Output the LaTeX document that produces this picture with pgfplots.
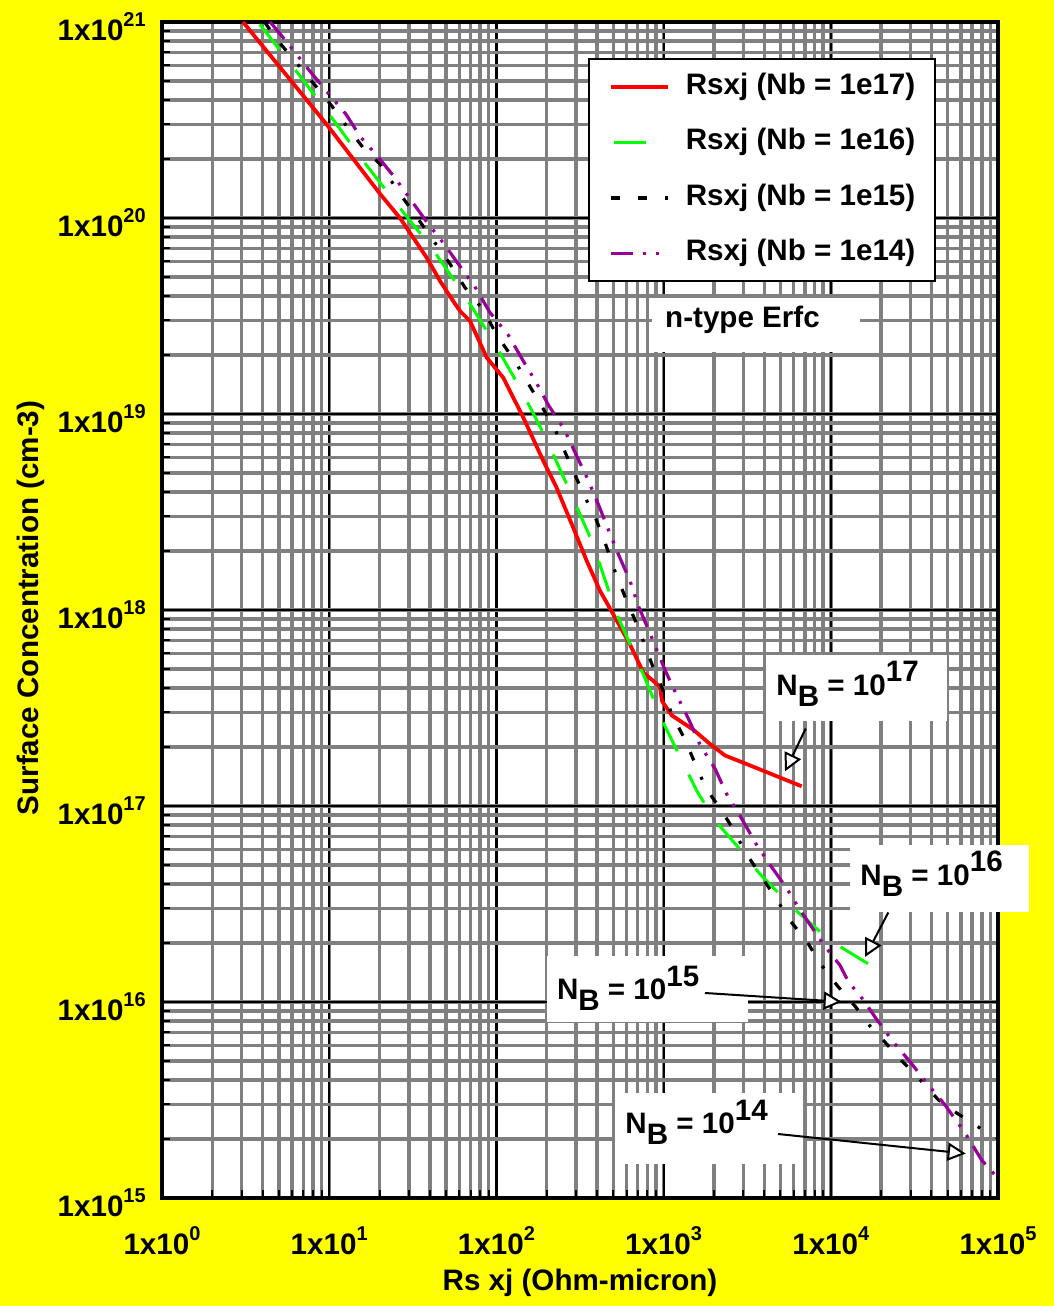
\documentclass[border=0pt]{standalone}
\usepackage{fontspec}
\setmainfont{Liberation Sans}
\usepackage{pgfplots}
\pgfplotsset{compat=1.18}
\usetikzlibrary{arrows.meta}
\definecolor{myyellow}{RGB}{255,255,0}
\definecolor{gridgray}{RGB}{128,128,128}
\definecolor{mypurple}{RGB}{153,0,153}
\definecolor{mygreen}{RGB}{0,255,0}
\newcommand{\lblfont}{\fontsize{14.8}{17}\selectfont\bfseries}
\newcommand{\tl}[1]{1x10\raisebox{7pt}{\fontsize{10}{10}\selectfont\bfseries #1}}
\newcommand{\nb}[1]{N\raisebox{-5.5pt}{B} = 10\raisebox{6.8pt}{#1}}
\begin{document}
\begin{tikzpicture}[x=1pt,y=1pt]
\fill[myyellow] (0,0) rectangle (527,653);
\path[use as bounding box] (0,0) rectangle (527,653);
\begin{axis}[
  at={(81pt,54pt)}, anchor=south west,
  scale only axis, width=418pt, height=588pt,
  axis background/.style={fill=white},
  xmode=log, ymode=log,
  xmin=1, xmax=1e5, ymin=1e15, ymax=1e21,
  xtick={1,10,100,1000,10000,100000},
  xticklabels={\tl{0},\tl{1},\tl{2},\tl{3},\tl{4},\tl{5}},
  ytick={1e15,1e16,1e17,1e18,1e19,1e20,1e21},
  yticklabels={\tl{15},\tl{16},\tl{17},\tl{18},\tl{19},\tl{20},\tl{21}},
  grid=both,
  major grid style={black, line width=1.1pt},
  minor grid style={gridgray, line width=1.7pt},
  tick pos=left, tick align=inside,
  major tick length=0pt, minor tick length=4pt,
  tick style={black, line width=1pt},
  axis line style={black, line width=1.6pt},
  xticklabel style={font=\lblfont, yshift=-11pt},
  yticklabel style={font=\lblfont, xshift=-4.6pt, yshift=-2.5pt},
  xlabel={Rs xj (Ohm-micron)},
  ylabel={Surface Concentration (cm-3)},
  xlabel style={font=\lblfont, at={(axis description cs:0.5,-0.0723)}, anchor=center},
  ylabel style={font=\lblfont, at={(axis description cs:-0.1567,0.5017)}, anchor=center},
  legend style={at={(axis description cs:0.5096,0.9694)}, anchor=north west,
    draw=black, line width=1pt, fill=white, font=\lblfont,
    inner xsep=10pt, inner ysep=6.75pt, row sep=13.25pt, column sep=8pt,
    nodes={inner sep=0pt, text height=11pt, text depth=3.5pt}},
  legend image code/.code={\draw[#1] (0pt,0pt) -- (28.5pt,0pt);},
  legend cell align=left,
]
\addplot[red, line width=1.9pt, line join=round] coordinates {
(3.05,1e21) (9.66,3.0e20) (20.1,1.33e20) (26.5,1.0e20) (38.3,6.27e19)
(46,4.77e19) (55,3.78e19) (60.6,3.35e19) (69.5,2.98e19) (87.5,1.94e19)
(110,1.53e19) (145,9.57e18) (191,5.75e18) (229,4.21e18) (288,2.63e18)
(347,1.78e18) (417,1.25e18) (500,9.5e17) (629,6.68e17) (756,4.8e17)
(951,4.06e17) (978,3.43e17) (1118,2.90e17) (1506,2.45e17) (1895,2.07e17)
(2328,1.81e17) (3288,1.61e17) (6698,1.26e17)
};
\addlegendentry{Rsxj (Nb = 1e17)}
\addplot[mygreen, line width=1.5pt, dash pattern=on 16pt off 13pt, dash phase=-1.5pt] coordinates {
(3.75,1e21) (6.69,5.30e20) (10.35,3.25e20) (16.0,1.95e20) (25.3,1.18e20)
(41.0,7.05e19) (64.9,4.0e19) (98.1,2.27e19) (141.7,1.31e19) (195,7.72e18)
(269,4.21e18) (376,2.20e18) (478,1.20e18) (536,9.14e17) (756,4.70e17)
(996,2.66e17) (1374,1.52e17) (1591,1.18e17) (2029,8.43e16) (2797,6.15e16)
(3773,4.49e16) (5970,3.01e16) (9890,2.06e16) (18620,1.48e16)
};
\addlegendentry{Rsxj (Nb = 1e16)}
\addplot[black, line width=1.6pt, dash pattern=on 4.5pt off 9pt on 4.5pt off 9pt on 1.5pt off 9pt] coordinates {
(4.1,1e21) (5.01,7.9e20) (6.24,6.32e20) (8.34,4.69e20) (10.35,3.73e20)
(13.1,2.84e20) (16.5,2.20e20) (20.1,1.89e20) (25.8,1.37e20) (32.1,1.06e20)
(41.5,7.77e19) (52.1,5.93e19) (64.9,4.41e19) (84.3,3.36e19) (100.4,2.53e19)
(129,1.86e19) (152,1.47e19) (186,1.10e19) (224,8.35e18) (248,6.87e18)
(288,5.12e18) (336,3.82e18) (398,2.85e18) (451,2.15e18) (518,1.53e18)
(590,1.16e18) (682,8.69e17) (748,7.11e17) (859,5.18e17) (996,3.86e17)
(1117,2.96e17) (1342,2.18e17) (1541,1.65e17) (1793,1.23e17) (2244,9.35e16)
(2576,7.74e16) (3098,5.77e16) (3773,4.49e16) (4680,3.39e16) (5755,2.58e16)
(7230,2.02e16) (8704,1.56e16) (10940,1.21e16) (14090,9.43e15) (17140,7.55e15)
(20600,6.38e15) (25570,5.18e15) (33680,4.07e15) (43950,3.17e15) (57100,2.70e15)
(78800,2.26e15) (100000,2.02e15)
};
\addlegendentry{Rsxj (Nb = 1e15)}
\addplot[mypurple, line width=1.6pt, dash pattern=on 11pt off 5pt on 1.5pt off 5pt on 1.5pt off 5pt] coordinates {
(4.43,1e21) (5.20,8.49e20) (5.97,7.34e20) (7.54,5.71e20) (9.80,4.36e20)
(12.6,3.38e20) (15.4,2.59e20) (19.4,2.07e20) (24.5,1.62e20) (30.3,1.26e20)
(38.3,9.54e19) (48.4,7.41e19) (61.4,5.58e19) (75.3,4.38e19) (90.7,3.33e19)
(118,2.52e19) (145,1.86e19) (172,1.46e19) (206,1.10e19) (256,8.27e18)
(302,6.11e18) (352,4.64e18) (407,3.46e18) (469,2.55e18) (541,1.89e18)
(629,1.41e18) (706,1.05e18) (838,7.43e17) (1026,4.88e17) (1197,3.68e17)
(1415,2.76e17) (1652,2.05e17) (2030,1.55e17) (2384,1.15e17) (2915,8.69e16)
(3571,6.41e16) (4350,4.98e16) (5375,3.87e16) (6590,2.92e16) (9310,1.90e16)
(11340,1.54e16) (12730,1.27e16) (15850,1.01e16) (18380,8.38e15) (23650,6.25e15)
(29770,4.96e15) (37000,3.91e15) (48200,2.98e15) (63500,2.15e15) (79900,1.56e15)
(100000,1.26e15)
};
\addlegendentry{Rsxj (Nb = 1e14)}
\end{axis}
% annotation boxes
\fill[white] (326,477) rectangle (430,504);
\node[font=\lblfont, anchor=center, inner sep=0pt] at (371.25,493) {n-type Erfc};
\fill[white] (383,292.5) rectangle (473.5,325.5);
\node[font=\lblfont, anchor=base west, inner sep=0pt] at (388,305.2) {\nb{17}};
\fill[white] (425,197) rectangle (514.5,230.5);
\node[font=\lblfont, anchor=base west, inner sep=0pt] at (430,210.2) {\nb{16}};
\fill[white] (273.5,142) rectangle (374,175);
\node[font=\lblfont, anchor=base west, inner sep=0pt] at (278.3,153) {\nb{15}};
\fill[white] (307.5,71) rectangle (401.5,106.5);
\node[font=\lblfont, anchor=base west, inner sep=0pt] at (312.5,86) {\nb{14}};
\draw[line width=1pt, -{Triangle[length=9pt,width=9pt,fill=white]}] (402.85,288.7) -- (392.5,267.3);
\draw[line width=1pt, -{Triangle[length=9pt,width=9pt,fill=white]}] (444.15,196.75) -- (432.5,174.5);
\draw[line width=1pt, -{Triangle[length=9pt,width=9pt,fill=white]}] (352.5,156.5) -- (420.85,152.1);
\draw[line width=1pt, -{Triangle[length=9pt,width=9pt,fill=white]}] (389,86) -- (482.85,76.2);
\end{tikzpicture}
\end{document}
